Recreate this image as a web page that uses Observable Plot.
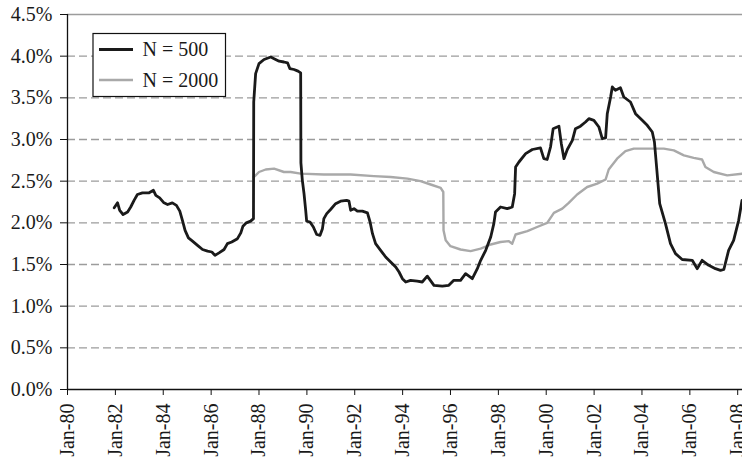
<!DOCTYPE html>
<html>
<head>
<meta charset="utf-8">
<script src="https://cdn.jsdelivr.net/npm/d3@7"></script>
<script src="https://cdn.jsdelivr.net/npm/@observablehq/plot@0.6"></script>
<style>
  html, body { margin: 0; padding: 0; background: white; }
  #chart { position: relative; width: 742px; height: 462px; overflow: hidden; }
</style>
</head>
<body>
<div id="chart"></div>
<script>
// ---- Data ----
// Dates are decimal years; values are percentages.
const n500Years = [
  1981.95, 1982.09, 1982.18, 1982.32, 1982.51, 1982.64, 1982.78, 1982.92, 1983.13, 1983.41,
  1983.59, 1983.69, 1983.85, 1984.03, 1984.18, 1984.38, 1984.55, 1984.69, 1984.80, 1984.91,
  1985.05, 1985.22, 1985.43, 1985.64, 1985.85, 1986.03, 1986.16, 1986.33, 1986.54, 1986.68,
  1986.86, 1987.10, 1987.24, 1987.33, 1987.47, 1987.65, 1987.77, 1987.78, 1987.86, 1988.00,
  1988.21, 1988.49, 1988.63, 1988.84, 1989.04, 1989.19, 1989.29, 1989.46, 1989.63, 1989.74,
  1989.75, 1989.81, 1989.88, 1989.95, 1989.99, 1990.13, 1990.27, 1990.41, 1990.55, 1990.65,
  1990.71, 1990.83, 1990.99, 1991.20, 1991.41, 1991.66, 1991.76, 1991.83, 1991.97, 1992.11,
  1992.32, 1992.53, 1992.64, 1992.74, 1992.87, 1993.08, 1993.29, 1993.50, 1993.71, 1993.85,
  1993.99, 1994.13, 1994.33, 1994.61, 1994.82, 1995.03, 1995.31, 1995.66, 1995.93, 1996.14,
  1996.42, 1996.63, 1996.91, 1997.12, 1997.26, 1997.47, 1997.68, 1997.81, 1997.88, 1998.09,
  1998.37, 1998.58, 1998.68, 1998.72, 1998.86, 1999.14, 1999.42, 1999.76, 1999.90, 2000.04,
  2000.18, 2000.29, 2000.53, 2000.63, 2000.74, 2000.88, 2001.09, 2001.22, 2001.43, 2001.64,
  2001.78, 2001.99, 2002.20, 2002.34, 2002.48, 2002.55, 2002.69, 2002.76, 2002.89, 2003.10,
  2003.24, 2003.52, 2003.73, 2004.01, 2004.22, 2004.43, 2004.52, 2004.61, 2004.74, 2004.98,
  2005.19, 2005.40, 2005.68, 2006.10, 2006.31, 2006.51, 2006.79, 2007.07, 2007.28, 2007.42,
  2007.62, 2007.83, 2008.04, 2008.18
];
const n500Values = [
  2.18, 2.24, 2.15, 2.10, 2.13, 2.19, 2.27, 2.34, 2.36, 2.36,
  2.39, 2.33, 2.30, 2.24, 2.22, 2.24, 2.21, 2.14, 2.03, 1.91,
  1.82, 1.78, 1.73, 1.68, 1.66, 1.65, 1.61, 1.64, 1.68, 1.75,
  1.77, 1.81, 1.88, 1.96, 2.00, 2.02, 2.05, 3.45, 3.79, 3.91,
  3.96, 3.99, 3.97, 3.94, 3.93, 3.92, 3.85, 3.84, 3.82, 3.80,
  2.72, 2.51, 2.35, 2.15, 2.02, 2.01, 1.95, 1.86, 1.85, 1.93,
  2.05, 2.11, 2.16, 2.23, 2.26, 2.27, 2.26, 2.15, 2.17, 2.14,
  2.14, 2.12, 2.01, 1.87, 1.75, 1.67, 1.59, 1.53, 1.47, 1.41,
  1.33, 1.29, 1.31, 1.30, 1.29, 1.36, 1.25, 1.24, 1.25, 1.31,
  1.31, 1.39, 1.33, 1.45, 1.55, 1.67, 1.83, 1.99, 2.13, 2.19,
  2.17, 2.19, 2.35, 2.67, 2.73, 2.83, 2.88, 2.90, 2.77, 2.76,
  2.91, 3.13, 3.16, 2.95, 2.77, 2.88, 2.99, 3.13, 3.16, 3.21,
  3.25, 3.23, 3.15, 3.01, 3.02, 3.31, 3.51, 3.63, 3.59, 3.62,
  3.51, 3.45, 3.31, 3.23, 3.17, 3.09, 2.97, 2.67, 2.23, 1.99,
  1.75, 1.63, 1.56, 1.55, 1.45, 1.55, 1.49, 1.45, 1.43, 1.44,
  1.67, 1.79, 2.03, 2.27
];
const n2000Years = [
  1987.78, 1987.86, 1988.00, 1988.28, 1988.63, 1989.04, 1989.32, 1989.74, 1990.71, 1991.83,
  1992.80, 1993.50, 1994.20, 1994.75, 1995.17, 1995.59, 1995.70, 1995.71, 1995.80, 1996.00,
  1996.42, 1996.84, 1997.26, 1997.68, 1998.09, 1998.44, 1998.58, 1998.72, 1999.21, 1999.62,
  2000.04, 2000.32, 2000.67, 2000.94, 2001.29, 2001.71, 2002.13, 2002.48, 2002.61, 2002.96,
  2003.31, 2003.66, 2004.22, 2004.91, 2005.33, 2005.75, 2006.16, 2006.51, 2006.65, 2007.00,
  2007.56, 2008.18
];
const n2000Values = [
  2.55, 2.57, 2.61, 2.64, 2.65, 2.61, 2.61, 2.59, 2.58, 2.58,
  2.56, 2.55, 2.53, 2.50, 2.46, 2.42, 2.37, 1.91, 1.79, 1.72,
  1.68, 1.66, 1.69, 1.74, 1.77, 1.78, 1.75, 1.86, 1.90, 1.95,
  2.00, 2.12, 2.17, 2.24, 2.34, 2.43, 2.47, 2.52, 2.64, 2.77,
  2.86, 2.89, 2.89, 2.89, 2.87, 2.81, 2.78, 2.76, 2.67, 2.61,
  2.57, 2.59
];
const seriesNames = ["N = 500", "N = 2000"];
const xTickYears = [1980, 1982, 1984, 1986, 1988, 1990, 1992, 1994, 1996, 1998, 2000, 2002, 2004, 2006, 2008];
const yTicks = [0, 0.5, 1.0, 1.5, 2.0, 2.5, 3.0, 3.5, 4.0, 4.5];
const xDomainYears = [1980.0, 2008.2];

// ---- Helpers ----
function decYear(y) {
  const yr = Math.floor(y);
  const s = Date.UTC(yr, 0, 1), e = Date.UTC(yr + 1, 0, 1);
  return new Date(s + (y - yr) * (e - s));
}
const n500 = n500Years.map((y, i) => ({date: decYear(y), value: n500Values[i]}));
const n2000 = n2000Years.map((y, i) => ({date: decYear(y), value: n2000Values[i]}));
const xTicks = xTickYears.map(y => new Date(Date.UTC(y, 0, 1)));
const xDomain = xDomainYears.map(decYear);

const black = "#1a1a1a";
const gray = "#a9a9a9";
const gridColor = "#9c9c9c";
const fontFam = "'Liberation Serif', 'Times New Roman', serif";

const chart = Plot.plot({
  width: 742,
  height: 462,
  marginTop: 14,
  marginBottom: 73,
  marginLeft: 67,
  marginRight: 0,
  style: {fontFamily: fontFam, fontSize: "20px", color: "#1a1a1a", background: "white"},
  x: {type: "utc", domain: xDomain},
  y: {domain: [0, 4.5]},
  marks: [
    Plot.ruleY(yTicks.filter(d => d > 0 && d < 4.5), {stroke: gridColor, strokeWidth: 1.3, strokeDasharray: "8,4"}),
    Plot.ruleY([4.5], {stroke: gridColor, strokeWidth: 1.3}),
    Plot.lineY(n2000, {x: "date", y: "value", stroke: gray, strokeWidth: 2.4}),
    Plot.lineY(n500, {x: "date", y: "value", stroke: black, strokeWidth: 2.8}),
    Plot.ruleY([0], {stroke: "#111", strokeWidth: 1.3}),
    Plot.ruleX([xDomain[0]], {stroke: "#111", strokeWidth: 1.3}),
    Plot.axisY({ticks: yTicks, tickFormat: d => d.toFixed(1) + "%", tickSize: 7, tickPadding: 8, label: null, stroke: "#111"}),
    Plot.axisX({ticks: xTicks, tickFormat: d3.utcFormat("%b-%y"), tickSize: 6, tickPadding: 8, tickRotate: -90, label: null, stroke: "#111"})
  ]
});

// ---- Legend (inside the plot area, top left) ----
const svg = d3.select(chart);
const lg = svg.append("g").attr("font-family", fontFam).attr("font-size", 20).attr("text-anchor", "start");
lg.append("rect").attr("x", 93).attr("y", 33.5).attr("width", 132.5).attr("height", 63)
  .attr("fill", "white").attr("stroke", "#111").attr("stroke-width", 1.2);
const rows = [{name: seriesNames[0], color: black, w: 2.8, y: 49.5}, {name: seriesNames[1], color: gray, w: 2.4, y: 80}];
rows.forEach(r => {
  lg.append("line").attr("x1", 99).attr("x2", 133).attr("y1", r.y).attr("y2", r.y)
    .attr("stroke", r.color).attr("stroke-width", r.w);
  lg.append("text").attr("x", 142.5).attr("y", r.y + 6.5).attr("fill", "#1a1a1a")
    .attr("text-anchor", "start").text(r.name);
});

document.getElementById("chart").appendChild(chart);
</script>
</body>
</html>
